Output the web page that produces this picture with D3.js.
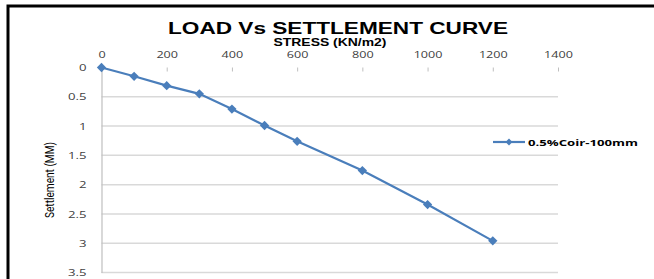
<!DOCTYPE html>
<html>
<head>
<meta charset="utf-8">
<script src="https://cdn.jsdelivr.net/npm/d3@7"></script>
<style>
  body { margin: 0; background: #fff; }
  svg { display: block; font-family: "Open Sans", "Liberation Sans", sans-serif; }
</style>
</head>
<body>
<div class="canvas"></div>
<script>
// data
const stress = [0, 100, 200, 300, 400, 500, 600, 800, 1000, 1200];
const settlement = [0, 0.15, 0.31, 0.45, 0.71, 0.99, 1.26, 1.76, 2.34, 2.96];
const xTicks = [0, 200, 400, 600, 800, 1000, 1200, 1400];
const yTicks = [0, 0.5, 1, 1.5, 2, 2.5, 3, 3.5];
const seriesName = "0.5%Coir-100mm";

const dims = { width: 654, height: 279 };
const plot = { left: 101.5, right: 558, top: 67.5, bottom: 272.5 };
const blue = "#4a7ebb";

// the original picture is stretched sideways, so widen text a bit
const widen = (sel, k) => sel.each(function() {
  const w = this.getComputedTextLength();
  d3.select(this).attr('textLength', w * k).attr('lengthAdjust', 'spacingAndGlyphs');
});

const svg = d3.select('.canvas')
  .append('svg')
  .attr('width', dims.width)
  .attr('height', dims.height);

// frame (top and left edges)
svg.append('path')
  .attr('d', 'M8,279 V6 H654')
  .attr('fill', 'none')
  .attr('stroke', '#000')
  .attr('stroke-width', 3);

const x = d3.scaleLinear().domain([0, 1400]).range([plot.left, plot.right]);
const y = d3.scaleLinear().domain([0, 3.5]).range([plot.top, plot.bottom]);

// gridlines
svg.append('g')
  .selectAll('line')
  .data(yTicks.filter(d => d > 0))
  .enter().append('line')
    .attr('x1', plot.left).attr('x2', plot.right)
    .attr('y1', d => y(d)).attr('y2', d => y(d))
    .attr('stroke', '#d9d9d9')
    .attr('stroke-width', 1.5);

// left axis
const yAxis = svg.append('g')
  .attr('transform', `translate(${plot.left},0)`)
  .call(d3.axisLeft(y).tickValues(yTicks).tickSize(0).tickPadding(15).tickFormat(d => d));
yAxis.select('.domain').attr('stroke', '#bfbfbf').attr('stroke-width', 1.2);
yAxis.selectAll('text')
  .attr('font-size', 8.8).attr('fill', '#404040').attr('dy', '0.36em')
  .attr('font-family', '"Open Sans", sans-serif')
  .call(widen, 1.5);

// top axis
const xAxis = svg.append('g')
  .attr('transform', `translate(0,${plot.top})`)
  .call(d3.axisTop(x).tickValues(xTicks).tickSize(-4).tickPadding(9.5).tickFormat(d => d));
xAxis.select('.domain').attr('stroke', 'none');
xAxis.selectAll('line').attr('stroke', '#bfbfbf');
xAxis.selectAll('text')
  .attr('font-size', 9).attr('fill', '#404040')
  .attr('font-family', '"Open Sans", sans-serif')
  .call(widen, 1.4);

// series
const pts = stress.map((s, i) => ({ s, v: settlement[i] }));
svg.append('path')
  .datum(pts)
  .attr('fill', 'none')
  .attr('stroke', blue)
  .attr('stroke-width', 2.2)
  .attr('d', d3.line().x(d => x(d.s)).y(d => y(d.v)));

const diamond = d3.symbol().type(d3.symbolDiamond2).size(55);
svg.append('g')
  .selectAll('path')
  .data(pts)
  .enter().append('path')
    .attr('d', diamond)
    .attr('transform', d => `translate(${x(d.s)},${y(d.v)})`)
    .attr('fill', blue);

// titles
svg.append('text')
  .attr('x', 338).attr('y', 33.5)
  .attr('text-anchor', 'middle')
  .attr('font-family', '"Liberation Sans", sans-serif')
  .attr('font-size', 17).attr('font-weight', 'bold')
  .attr('fill', '#000')
  .attr('textLength', 340).attr('lengthAdjust', 'spacingAndGlyphs')
  .text('LOAD Vs SETTLEMENT CURVE');

svg.append('text')
  .attr('x', 330).attr('y', 46)
  .attr('text-anchor', 'middle')
  .attr('font-family', '"Liberation Sans", sans-serif')
  .attr('font-size', 10).attr('font-weight', 'bold')
  .attr('fill', '#000')
  .attr('textLength', 113).attr('lengthAdjust', 'spacingAndGlyphs')
  .text('STRESS (KN/m2)');

svg.append('text')
  .attr('transform', 'translate(54,180) rotate(-90)')
  .attr('text-anchor', 'middle')
  .attr('font-size', 12)
  .attr('font-family', '"Liberation Sans Narrow", "Roboto", sans-serif')
  .attr('fill', '#000')
  .attr('textLength', 76).attr('lengthAdjust', 'spacingAndGlyphs')
  .text('Settlement (MM)');

// legend
const legend = svg.append('g').attr('transform', 'translate(493,142)');
legend.append('line')
  .attr('x1', 0).attr('x2', 32)
  .attr('stroke', blue).attr('stroke-width', 2.2);
legend.append('path')
  .attr('d', d3.symbol().type(d3.symbolDiamond2).size(30))
  .attr('transform', 'translate(16,0)')
  .attr('fill', blue);
legend.append('text')
  .attr('x', 35).attr('y', 3.5)
  .attr('font-size', 9.5).attr('font-weight', 'bold')
  .attr('fill', '#000')
  .attr('textLength', 110).attr('lengthAdjust', 'spacingAndGlyphs')
  .text(seriesName);
</script>
</body>
</html>
